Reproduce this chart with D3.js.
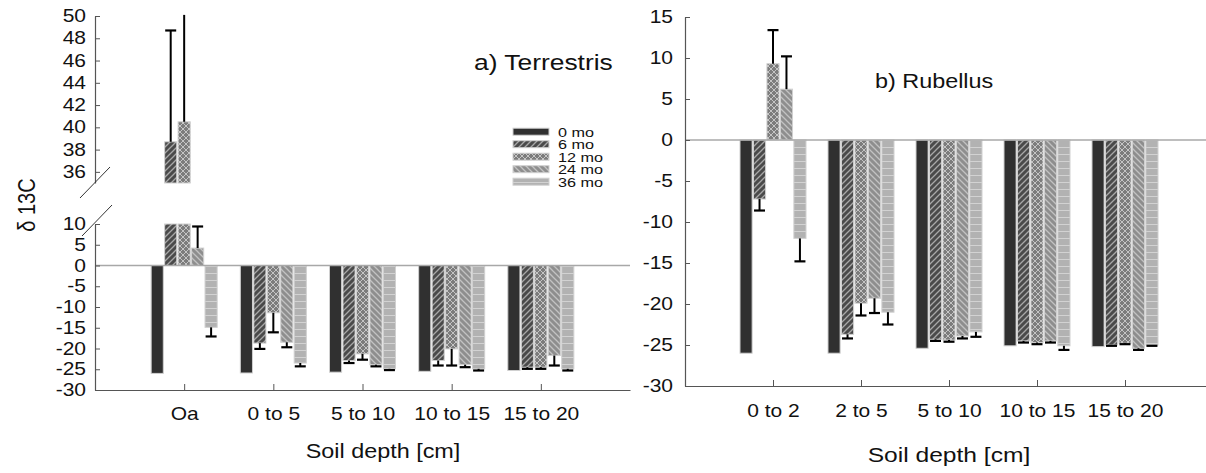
<!DOCTYPE html>
<html><head><meta charset="utf-8">
<script src="https://cdn.jsdelivr.net/npm/d3@7"></script>
<style>
body{margin:0;background:#fff;}
svg{display:block;}
text{font-family:"Liberation Sans",Arial,sans-serif;fill:#111;}
</style>
</head><body>
<svg id="chart" width="1206" height="473"></svg>
<script>
// ---------- data ----------
const seriesNames = ["0 mo", "6 mo", "12 mo", "24 mo", "36 mo"];
const depthsTerrestris = ["Oa", "0 to 5", "5 to 10", "10 to 15", "15 to 20"];
const depthsRubellus = ["0 to 2", "2 to 5", "5 to 10", "10 to 15", "15 to 20"];

// a) Terrestris: means per series (order of depthsTerrestris)
const terrestris0mo  = [-26.0, -25.9, -25.7, -25.5, -25.3];
const terrestris6mo  = [38.7, -18.7, -22.9, -22.9, -24.5];
const terrestris12mo = [40.5, -11.4, -21.3, -20.1, -24.5];
const terrestris24mo = [4.2, -18.5, -23.9, -23.9, -21.7];
const terrestris36mo = [-14.9, -23.5, -24.9, -24.9, -24.9];
// a) Terrestris: error (one side)
const terrestrisErr0mo  = [0, 0, 0, 0, 0];
const terrestrisErr6mo  = [10.0, 1.4, 0.6, 1.2, 0.4];
const terrestrisErr12mo = [12.0, 4.7, 1.4, 4.0, 0.4];
const terrestrisErr24mo = [5.2, 1.2, 0.4, 0.6, 2.4];
const terrestrisErr36mo = [2.2, 0.8, 0.3, 0.4, 0.4];

// b) Rubellus
const rubellus0mo  = [-26.0, -26.0, -25.4, -25.1, -25.2];
const rubellus6mo  = [-7.2, -23.7, -24.3, -24.5, -25.0];
const rubellus12mo = [9.3, -19.9, -24.4, -24.7, -24.8];
const rubellus24mo = [6.2, -19.3, -23.9, -24.5, -25.4];
const rubellus36mo = [-12.0, -21.0, -23.4, -25.1, -25.0];
const rubellusErr0mo  = [0, 0, 0, 0, 0];
const rubellusErr6mo  = [1.4, 0.5, 0.2, 0.2, 0.1];
const rubellusErr12mo = [4.1, 1.5, 0.2, 0.2, 0.1];
const rubellusErr24mo = [4.0, 1.8, 0.3, 0.2, 0.2];
const rubellusErr36mo = [2.8, 1.5, 0.6, 0.5, 0.1];

const ticksTerrestrisUpper = [36, 38, 40, 42, 44, 46, 48, 50];
const ticksTerrestrisLower = [-30, -25, -20, -15, -10, -5, 0, 5, 10];
const ticksRubellus = [-30, -25, -20, -15, -10, -5, 0, 5, 10, 15];

const terrestrisMeans = [terrestris0mo, terrestris6mo, terrestris12mo, terrestris24mo, terrestris36mo];
const terrestrisErrs = [terrestrisErr0mo, terrestrisErr6mo, terrestrisErr12mo, terrestrisErr24mo, terrestrisErr36mo];
const rubellusMeans = [rubellus0mo, rubellus6mo, rubellus12mo, rubellus24mo, rubellus36mo];
const rubellusErrs = [rubellusErr0mo, rubellusErr6mo, rubellusErr12mo, rubellusErr24mo, rubellusErr36mo];

// ---------- setup ----------
const SX = 1.2; // horizontal text stretch of the original figure
const svg = d3.select("#chart");
const defs = svg.append("defs");
const fmt = d => String(d); // plain hyphen-minus, as in the original

function pattern(id, bg, path, stroke, w, h, sw) {
  const p = defs.append("pattern").attr("id", id).attr("patternUnits", "userSpaceOnUse")
    .attr("width", w).attr("height", h);
  p.append("rect").attr("width", w).attr("height", h).attr("fill", bg);
  if (path) p.append("path").attr("d", path).attr("stroke", stroke).attr("stroke-width", sw).attr("fill", "none");
}
pattern("p6", "#4a4a4a", "M0,6 L6,0 M-1,1 L1,-1 M5,7 L7,5", "#a8a8a8", 6, 6, 1.3);
pattern("p12", "#7c7c7c", "M0,0 L6,6 M0,6 L6,0 M-1,1 L1,-1 M5,7 L7,5 M-1,5 L1,7 M5,-1 L7,1", "#c4c4c4", 6, 6, 1);
pattern("p24", "#8e8e8e", "M0,0 L6,6 M-1,5 L1,7 M5,-1 L7,1", "#c2c2c2", 6, 6, 1.3);
pattern("p36", "#b2b2b2", "M0,0.5 L8,0.5", "#d2d2d2", 8, 7, 1);

const fills = ["#303030", "url(#p6)", "url(#p12)", "url(#p24)", "url(#p36)"];
const barStroke = "#d0d0d0";
const axisColor = "#555";

function addText(g, x, y, str, size, anchor) {
  return g.append("text")
    .attr("transform", `translate(${x},${y}) scale(${SX},1)`)
    .attr("font-size", size)
    .attr("text-anchor", anchor || "start")
    .text(str);
}

function styleAxis(g, size) {
  g.selectAll("path.domain").attr("stroke", axisColor).attr("stroke-width", 1.2);
  g.selectAll(".tick line").attr("stroke", axisColor);
  g.selectAll(".tick text").attr("font-size", size).attr("fill", "#111")
    .attr("font-family", '"Liberation Sans",Arial,sans-serif')
    .attr("transform", `scale(${SX},1)`);
}

function errorBar(g, x, y0, y1, cap) {
  g.append("line").attr("x1", x).attr("x2", x).attr("y1", y0).attr("y2", y1)
    .attr("stroke", "#000").attr("stroke-width", 2);
  if (cap) g.append("line").attr("x1", x - 5.5).attr("x2", x + 5.5).attr("y1", y1).attr("y2", y1)
    .attr("stroke", "#000").attr("stroke-width", 2.2);
}

// ================= Panel a) Terrestris =================
const xA = d3.scalePoint().domain(depthsTerrestris).range([95, 630]).padding(1);
const inner = d3.scaleBand().domain(seriesNames).range([-33, 33]).paddingInner(0.1);
const yLow = d3.scaleLinear().domain([-30, 10]).range([390, 224]);
const yUp = d3.scaleLinear().domain([35, 50]).range([183, 16]);

const gA = svg.append("g");
const barsA = gA.append("g");
depthsTerrestris.forEach((cat, i) => {
  seriesNames.forEach((s, k) => {
    const v = terrestrisMeans[k][i], e = terrestrisErrs[k][i];
    const x = xA(cat) + inner(s), w = inner.bandwidth(), cx = x + w / 2;
    // lower segment
    const lv = Math.max(-30, Math.min(10, v));
    barsA.append("rect").attr("x", x).attr("width", w)
      .attr("y", yLow(Math.max(lv, 0))).attr("height", Math.abs(yLow(lv) - yLow(0)))
      .attr("fill", fills[k]).attr("stroke", barStroke).attr("stroke-width", 1);
    // upper segment
    if (v > 35) {
      const uv = Math.min(50, v);
      barsA.append("rect").attr("x", x).attr("width", w)
        .attr("y", yUp(uv)).attr("height", yUp(35) - yUp(uv))
        .attr("fill", fills[k]).attr("stroke", barStroke).attr("stroke-width", 1);
      if (e > 0) {
        const end = v + e;
        errorBar(gA, cx, yUp(v), yUp(Math.min(end, 50.1)), end <= 50.1);
      }
    } else if (e > 0) {
      const end = v >= 0 ? v + e : v - e;
      errorBar(gA, cx, yLow(v), yLow(end), true);
    }
  });
});

// zero line
gA.append("line").attr("x1", 95).attr("x2", 630).attr("y1", yLow(0)).attr("y2", yLow(0))
  .attr("stroke", "#a8a8a8").attr("stroke-width", 1.5);

// axes
const axLow = gA.append("g").attr("transform", "translate(95,0)")
  .call(d3.axisLeft(yLow).tickValues(ticksTerrestrisLower).tickFormat(fmt).tickSizeInner(-5).tickSizeOuter(0).tickPadding(7.5));
const axUp = gA.append("g").attr("transform", "translate(95,0)")
  .call(d3.axisLeft(yUp).tickValues(ticksTerrestrisUpper).tickFormat(fmt).tickSizeInner(-5).tickSizeOuter(0).tickPadding(7.5));
const axXA = gA.append("g").attr("transform", "translate(0,390)")
  .call(d3.axisBottom(xA).tickSizeInner(-6).tickSizeOuter(0).tickPadding(18));
[axLow, axUp, axXA].forEach(a => styleAxis(a, 17.5));

// break marks
gA.append("line").attr("x1", 80).attr("y1", 198).attr("x2", 110).attr("y2", 167).attr("stroke", "#333").attr("stroke-width", 1);
gA.append("line").attr("x1", 82).attr("y1", 236).attr("x2", 112).attr("y2", 205).attr("stroke", "#333").attr("stroke-width", 1);

addText(gA, 474, 70, "a) Terrestris", 22);
addText(gA, 383, 458, "Soil depth [cm]", 19.5, "middle");
svg.append("text").attr("transform", `translate(35,205) scale(${SX},1) rotate(-90)`)
  .attr("font-size", 20).attr("text-anchor", "middle").text("δ 13C");

// legend
const leg = svg.append("g");
seriesNames.forEach((s, k) => {
  const cy = 131.7 + k * 12.5;
  leg.append("rect").attr("x", 513).attr("y", cy - 3.5).attr("width", 36).attr("height", 7)
    .attr("fill", fills[k]).attr("stroke", barStroke).attr("stroke-width", 1);
  addText(leg, 558, cy + 4.8, s, 13.5);
});

// ================= Panel b) Rubellus =================
const xB = d3.scalePoint().domain(depthsRubellus).range([685, 1213]).padding(1);
const yB = d3.scaleLinear().domain([-30, 15]).range([386, 17]);
const gB = svg.append("g");
depthsRubellus.forEach((cat, i) => {
  seriesNames.forEach((s, k) => {
    const v = rubellusMeans[k][i], e = rubellusErrs[k][i];
    const x = xB(cat) + inner(s), w = inner.bandwidth(), cx = x + w / 2;
    gB.append("rect").attr("x", x).attr("width", w)
      .attr("y", yB(Math.max(v, 0))).attr("height", Math.abs(yB(v) - yB(0)))
      .attr("fill", fills[k]).attr("stroke", barStroke).attr("stroke-width", 1);
    if (e > 0) {
      const end = v >= 0 ? v + e : v - e;
      errorBar(gB, cx, yB(v), yB(end), true);
    }
  });
});
gB.append("line").attr("x1", 685).attr("x2", 1206).attr("y1", yB(0)).attr("y2", yB(0))
  .attr("stroke", "#a8a8a8").attr("stroke-width", 1.5);
const axYB = gB.append("g").attr("transform", "translate(685,0)")
  .call(d3.axisLeft(yB).tickValues(ticksRubellus).tickFormat(fmt).tickSizeInner(-5).tickSizeOuter(0).tickPadding(10));
const axXB = gB.append("g").attr("transform", "translate(0,386)")
  .call(d3.axisBottom(xB).tickSizeInner(-6).tickSizeOuter(0).tickPadding(19));
styleAxis(axYB, 17.5); styleAxis(axXB, 17.5);

addText(gB, 875, 88, "b) Rubellus", 19.5);
addText(gB, 949, 462, "Soil depth [cm]", 20.5, "middle");
</script>
</body></html>
